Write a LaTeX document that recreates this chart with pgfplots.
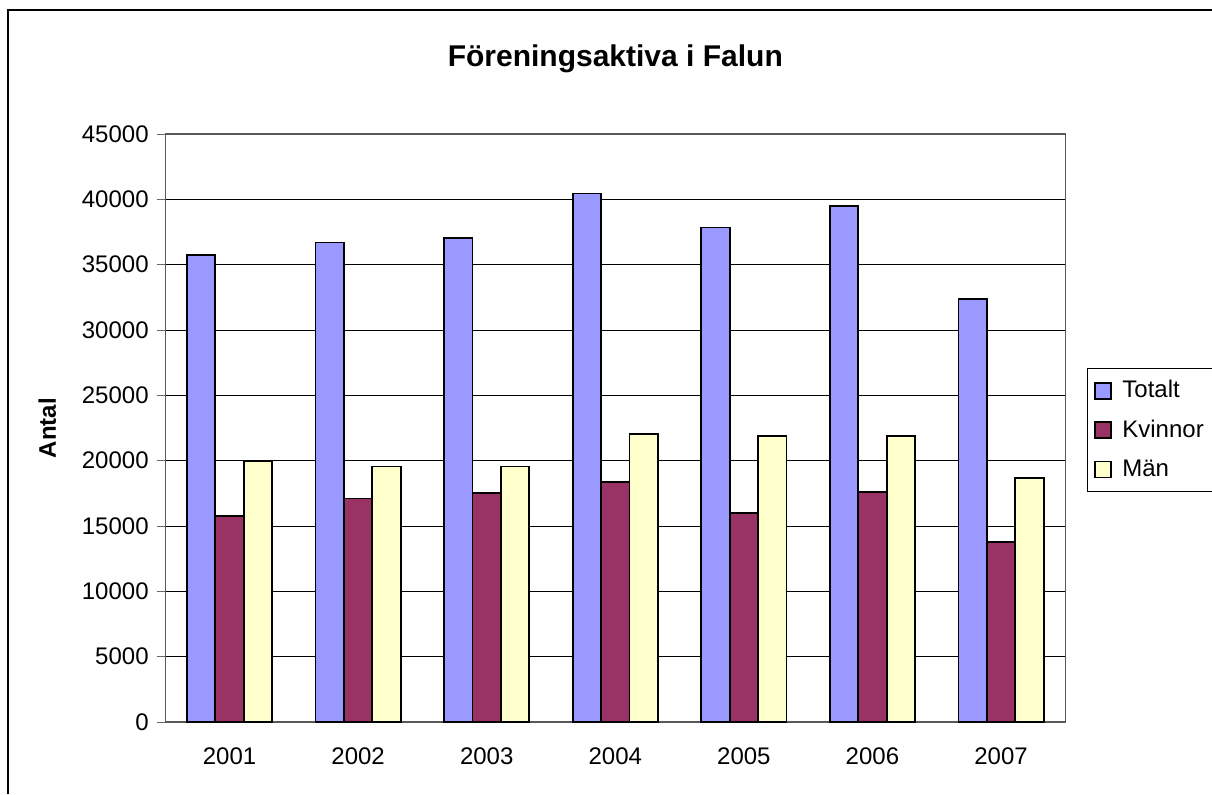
\documentclass[border=0pt]{standalone}
\usepackage{fontspec}
\setmainfont{Liberation Sans}
\usepackage{pgfplots}
\pgfplotsset{compat=1.18}
\definecolor{totc}{HTML}{9999FF}
\definecolor{kvc}{HTML}{993366}
\definecolor{manc}{HTML}{FFFFCC}
\begin{document}
\begin{tikzpicture}
\path[use as bounding box] (0,0) rectangle (606pt,397pt);
\draw[black,line width=0.8pt] (4pt,0pt) -- (4pt,392pt) -- (606pt,392pt);
\begin{axis}[
  at={(82.65pt,36pt)}, anchor=south west,
  scale only axis, width=450pt, height=294pt,
  ybar=0pt, bar width=14.2pt,
  xmin=-0.5, xmax=6.5, ymin=0, ymax=45000,
  xtick={0,1,2,3,4,5,6},
  xticklabels={2001,2002,2003,2004,2005,2006,2007},
  xtick style={draw=none},
  minor xtick={-0.5,0.5,1.5,2.5,3.5,4.5,5.5,6.5},
  minor tick length=4.3pt,
  ytick={0,5000,...,45000},
  major tick length=4.3pt,
  tick align=outside,
  xtick pos=bottom, ytick pos=left,
  minor x tick style={gray!80!black, line width=0.5pt},
  ytick style={gray!80!black, line width=0.5pt},
  ymajorgrids, grid style={black, line width=0.5pt},
  axis line style={gray!70!black, line width=0.6pt},
  scaled y ticks=false,
  /pgf/number format/assume math mode=true,
  yticklabel={\pgfmathprintnumber[fixed,1000 sep={}]{\tick}},
  tick label style={font=\fontsize{12}{14}\selectfont},
  xticklabel style={yshift=-5pt},
  yticklabel style={xshift=-0.5pt},
  title={\textbf{Föreningsaktiva i Falun}},
  title style={at={(axis description cs:0.5,1.108)},anchor=center,font=\fontsize{15}{18}\selectfont},
  ylabel={\textbf{Antal}},
  ylabel style={at={(axis description cs:-0.131,0.5)},anchor=center,rotate=0,font=\fontsize{12}{14}\selectfont},
  legend style={at={(1.024,0.602)},anchor=north west, draw=black, line width=0.5pt,
    font=\fontsize{12}{14}\selectfont, row sep=5.6pt, inner xsep=3pt, inner ysep=4pt},
  legend cell align=left,
  legend image code/.code={\path[draw=none,fill=none] (0pt,0pt) -- (12.5pt,0pt);\draw[#1,line width=0.9pt] (1pt,-4pt) rectangle (9pt,4pt);},
  every axis plot/.append style={draw=black, line width=0.9pt},
]
\addplot[fill=totc] coordinates {(0,35750) (1,36700) (2,37030) (3,40450) (4,37850) (5,39470) (6,32400)};
\addplot[fill=kvc] coordinates {(0,15750) (1,17100) (2,17540) (3,18370) (4,16000) (5,17620) (6,13800)};
\addplot[fill=manc] coordinates {(0,19980) (1,19550) (2,19550) (3,22070) (4,21870) (5,21870) (6,18650)};
\legend{Totalt,Kvinnor,Män}
\end{axis}
\end{tikzpicture}
\end{document}
